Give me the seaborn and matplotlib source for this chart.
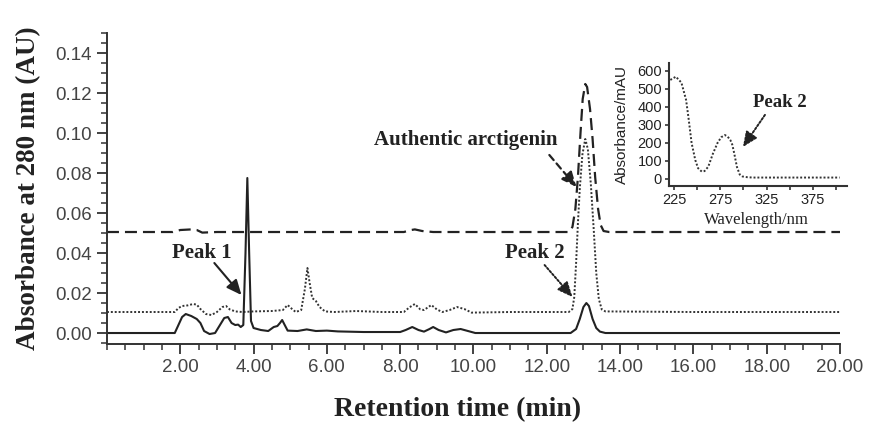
import numpy as np
import pandas as pd
import matplotlib
matplotlib.use("Agg")
import matplotlib.pyplot as plt
import seaborn as sns
from matplotlib.ticker import MultipleLocator, FixedLocator

# chromatogram traces (retention time in min, absorbance in AU)
sample_t = [0, 1.85, 1.95, 2.05, 2.15, 2.3, 2.45, 2.55, 2.65, 2.8, 2.95, 3.05, 3.2, 3.3,
            3.4, 3.5, 3.58, 3.65, 3.72, 3.78, 3.83, 3.88, 3.93, 4.0, 4.2, 4.4, 4.55, 4.65,
            4.72, 4.78, 4.85, 4.93, 5.2, 5.45, 5.7, 6.0, 6.3, 7.0, 8.0, 8.15, 8.33, 8.5,
            8.65, 8.8, 8.9, 9.05, 9.25, 9.45, 9.65, 9.85, 10.05, 12.65, 12.8, 12.9, 13.0,
            13.08, 13.15, 13.25, 13.35, 13.45, 13.6, 20]
sample_abs = [0.0, 0.0, 0.004, 0.008, 0.0095, 0.0085, 0.007, 0.005, 0.001, -0.0005, 0.0,
              0.003, 0.0075, 0.008, 0.005, 0.004, 0.0042, 0.003, 0.004, 0.04, 0.0775, 0.04,
              0.006, 0.0025, 0.0015, 0.001, 0.003, 0.0035, 0.005, 0.0065, 0.004, 0.0012,
              0.001, 0.0018, 0.001, 0.0012, 0.0008, 0.0005, 0.0005, 0.0015, 0.003, 0.0015,
              0.0007, 0.002, 0.003, 0.0015, 0.0003, 0.0015, 0.002, 0.001, 0.0, 0.0, 0.002,
              0.007, 0.013, 0.015, 0.0135, 0.007, 0.0025, 0.0007, 0.0, 0.0]

spiked_t = [0, 1.85, 1.95, 2.05, 2.2, 2.35, 2.45, 2.55, 2.7, 2.85, 3.0, 3.15, 3.25, 3.35,
            3.5, 3.7, 4.0, 4.5, 4.8, 4.93, 5.05, 5.15, 5.3, 5.4, 5.47, 5.53, 5.6, 5.7, 5.8,
            5.95, 6.2, 6.8, 7.5, 8.1, 8.25, 8.4, 8.55, 8.65, 8.85, 9.0, 9.15, 9.35, 9.55,
            9.75, 9.95, 11.0, 12.6, 12.7, 12.75, 12.8, 12.85, 12.9, 12.97, 13.05, 13.12,
            13.2, 13.28, 13.35, 13.42, 13.5, 13.6, 16.0, 20]
spiked_abs = [0.0105, 0.0105, 0.0125, 0.0135, 0.0138, 0.0145, 0.0142, 0.012, 0.0095, 0.009,
              0.0105, 0.013, 0.0135, 0.0118, 0.0108, 0.0105, 0.0108, 0.011, 0.0115, 0.014,
              0.012, 0.0105, 0.0115, 0.022, 0.0325, 0.025, 0.0175, 0.016, 0.013, 0.0108,
              0.0105, 0.011, 0.0105, 0.0105, 0.0128, 0.0145, 0.0118, 0.0115, 0.014, 0.0118,
              0.0105, 0.0115, 0.013, 0.012, 0.0102, 0.0105, 0.0105, 0.012, 0.018, 0.035,
              0.055, 0.072, 0.089, 0.097, 0.092, 0.075, 0.052, 0.03, 0.017, 0.0118, 0.0108,
              0.0105, 0.0105]

standard_t = [0, 1.8, 2.0, 2.3, 2.45, 2.6, 3.0, 8.1, 8.3, 8.4, 8.6, 8.9, 12.6, 12.7, 12.78,
              12.85, 12.92, 12.98, 13.05, 13.1, 13.18, 13.25, 13.32, 13.4, 13.47, 13.55,
              13.7, 20]
standard_abs = [0.0505, 0.0505, 0.0515, 0.0518, 0.0515, 0.0502, 0.0505, 0.0505, 0.0515,
                0.0518, 0.051, 0.0505, 0.0505, 0.053, 0.062, 0.078, 0.1, 0.117, 0.1245,
                0.123, 0.112, 0.097, 0.078, 0.062, 0.054, 0.051, 0.0505, 0.0505]

# UV spectrum of peak 2 (inset)
wavelength = [221, 227, 233, 238, 240.5, 244, 248, 251, 255, 258, 262, 267, 272, 276, 280,
              283, 286, 288, 290, 293, 296, 299, 304, 310, 340, 370, 404]
spectrum = [550, 568, 535, 440, 346, 200, 105, 60, 41, 44, 68, 140, 200, 232, 244, 235,
            215, 190, 144, 67, 25, 14, 10, 8, 8, 8, 8]

x_ticks = [2, 4, 6, 8, 10, 12, 14, 16, 18, 20]
x_ticklabels = ["2.00", "4.00", "6.00", "8.00", "10.00", "12.00", "14.00", "16.00", "18.00", "20.00"]
y_ticks = [0.0, 0.02, 0.04, 0.06, 0.08, 0.10, 0.12, 0.14]
y_ticklabels = ["0.00", "0.02", "0.04", "0.06", "0.08", "0.10", "0.12", "0.14"]
inset_xticks = [225, 275, 325, 375]
inset_yticks = [0, 100, 200, 300, 400, 500, 600]

sns.set_style("ticks")
plt.rcParams["font.family"] = ["Liberation Sans", "DejaVu Sans"]

ink = "#222222"
serif = ["Liberation Serif", "DejaVu Serif"]
head = "-|>,head_length=0.9,head_width=0.4"


def arrow(axis, tip, tail, ls, lw=1.5):
    axis.annotate("", xy=tip, xytext=tail,
                  arrowprops=dict(arrowstyle=head, color=ink, lw=lw, linestyle=ls,
                                  shrinkA=0, shrinkB=0))


fig = plt.figure(figsize=(8.71, 4.22), dpi=100)
ax = fig.add_axes([0.1228, 0.1848, 0.8416, 0.7370])

sns.lineplot(x=standard_t, y=standard_abs, ax=ax, color=ink, lw=1.6,
             linestyle=(0, (5.4, 2.7)), estimator=None)
sns.lineplot(x=spiked_t, y=spiked_abs, ax=ax, color="#333333", lw=1.4,
             linestyle=(0, (1, 1)), estimator=None)
sns.lineplot(x=sample_t, y=sample_abs, ax=ax, color=ink, lw=1.5, estimator=None)

ax.set_xlim(0, 20)
ax.set_ylim(-0.0055, 0.15)
ax.set_xticks(x_ticks)
ax.set_xticklabels(x_ticklabels)
ax.set_yticks(y_ticks)
ax.set_yticklabels(y_ticklabels)
ax.xaxis.set_minor_locator(MultipleLocator(0.5))
ax.yaxis.set_minor_locator(MultipleLocator(0.005))
ax.tick_params(axis="both", which="major", length=7, width=1.3, color="#333333",
               labelsize=13.5, labelcolor="#444444", pad=4)
ax.tick_params(axis="both", which="minor", length=4, width=1.1, color="#333333")
sns.despine(ax=ax)
for s in ["left", "bottom"]:
    ax.spines[s].set_linewidth(1.4)
    ax.spines[s].set_color("#333333")
ax.set_xlabel("")
ax.set_ylabel("")

fig.text(0.0333, 0.5545, "Absorbance at 280 nm (AU)", rotation=90, ha="center", va="center",
         fontsize=19.5, fontweight="bold", family=serif, color=ink)
fig.text(0.5258, 0.0284, "Retention time (min)", ha="center", va="center",
         fontsize=20, fontweight="bold", family=serif, color=ink)

# annotations
ax.text(2.58, 0.040, "Peak 1", ha="center", va="center", fontsize=15,
        fontweight="bold", family=serif, color=ink)
arrow(ax, (3.67, 0.019), (2.93, 0.035), "-", 1.5)
ax.text(11.67, 0.040, "Peak 2", ha="center", va="center", fontsize=15,
        fontweight="bold", family=serif, color=ink)
arrow(ax, (12.7, 0.018), (11.94, 0.034), (0, (1, 1)), 1.4)
ax.text(9.78, 0.0965, "Authentic arctigenin", ha="center", va="center", fontsize=15,
        fontweight="bold", family=serif, color=ink)
arrow(ax, (12.81, 0.073), (12.07, 0.089), (0, (3, 2)), 1.6)

# inset UV spectrum
axin = fig.add_axes([0.7681, 0.5592, 0.2044, 0.2915])
axin.patch.set_alpha(0)
sns.lineplot(x=wavelength, y=spectrum, ax=axin, color="#333333", lw=1.4,
             linestyle=(0, (1, 1)), estimator=None)
axin.set_xlim(219.6, 412)
axin.set_ylim(-39, 644)
axin.set_xticks(inset_xticks)
axin.set_yticks(inset_yticks)
axin.xaxis.set_minor_locator(FixedLocator([250, 300, 350, 400]))
axin.tick_params(axis="both", which="major", length=3, width=1.2, color="#333333",
                 labelsize=10.5, labelcolor=ink, pad=2)
axin.tick_params(axis="x", which="minor", length=3, width=1.2, color="#333333")
sns.despine(ax=axin)
for s in ["left", "bottom"]:
    axin.spines[s].set_linewidth(1.5)
    axin.spines[s].set_color("#333333")
axin.set_xlabel("")
axin.set_ylabel("")
fig.text(0.714, 0.706, "Absorbance/mAU", rotation=90, ha="center", va="center",
         fontsize=11, color=ink)
fig.text(0.869, 0.479, "Wavelength/nm", ha="center", va="center",
         fontsize=12, family=serif, color=ink)
axin.text(339.5, 422, "Peak 2", ha="center", va="center", fontsize=13.5,
          fontweight="bold", family=serif, color=ink)
arrow(axin, (299.5, 178), (323.3, 356), (0, (1, 1)), 1.4)

fig.savefig("out.png", dpi=100)
